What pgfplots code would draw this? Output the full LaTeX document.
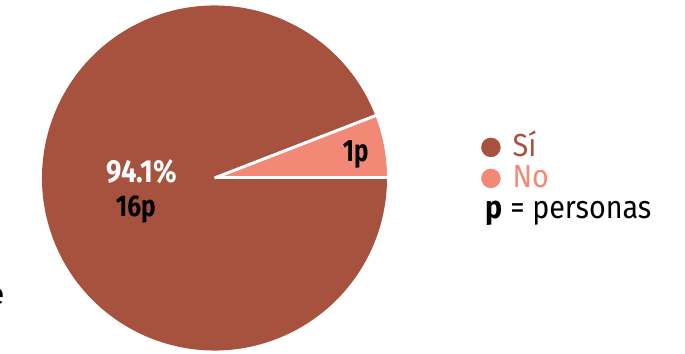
\documentclass[border=0pt]{standalone}
\usepackage{graphicx}
\usepackage{pgfplots}
\pgfplotsset{compat=1.18}
\usepackage{fontspec}
\setmainfont{Fira Sans}
\definecolor{si}{RGB}{166,82,63}
\definecolor{no}{RGB}{241,137,118}
\def\nSi{16}
\def\nNo{1}
\pgfmathsetmacro{\angNo}{360*\nNo/(\nSi+\nNo)}
\begin{document}
\begin{tikzpicture}
\useasboundingbox (0,0) rectangle (685bp,354bp);
\begin{scope}
\clip (0,0) rectangle (685bp,354bp);
\begin{axis}[at={(0,0)}, anchor=south west,
  x=172.5bp, y=172.5bp,
  xmin=-1.2435, xmax=2.7275, ymin=-1.0203, ymax=1.0319,
  hide axis, clip=false,
  legend cell align=left,
  legend style={draw=none, fill=none, at={(axis cs:1.545,-0.014)}, anchor=west,
    font=\fontsize{32}{33}\selectfont, inner sep=0pt, row sep=3bp,
    nodes={inner sep=0pt, text height=21bp, text depth=7bp},
    /tikz/every odd column/.append style={column sep=12bp}},
]
\fill[si] (axis cs:0,0) -- (axis cs:{cos(\angNo)},{sin(\angNo)}) arc[start angle=\angNo, end angle=360, radius=172.5bp] -- cycle;
\fill[no] (axis cs:0,0) -- (axis cs:1,0) arc[start angle=0, end angle=\angNo, radius=172.5bp] -- cycle;
\draw[white, line width=3bp] (axis cs:0,0) -- (axis cs:1.02,0);
\draw[white, line width=3bp] (axis cs:0,0) -- (axis cs:{1.02*cos(\angNo)},{1.02*sin(\angNo)});
\node[anchor=base west, white, xscale=0.86, font=\fontsize{32}{34}\selectfont\bfseries] at (axis cs:-0.646,-0.029) {94.1\%};
\node[anchor=base west, black, xscale=0.82, font=\fontsize{30}{34}\selectfont\bfseries] at (axis cs:-0.588,-0.226) {16p};
\node[anchor=base west, black, xscale=0.78, font=\fontsize{31}{34}\selectfont\bfseries] at (axis cs:0.728,0.093) {1p};
\node[anchor=base east, black, font=\fontsize{30}{34}\selectfont] at (axis cs:-1.197,-0.736) {e};
\addlegendimage{legend image code/.code={\fill[si] (9.5bp,2bp) circle (9.5bp);}}
\addlegendentry{\scalebox{0.9}[1]{\textcolor{si}{Sí}}}
\addlegendimage{legend image code/.code={\fill[no] (9.5bp,2bp) circle (9.5bp);}}
\addlegendentry{\scalebox{0.9}[1]{\textcolor{no}{No}}}
\addlegendimage{empty legend}
\addlegendentry{\hspace*{-27bp}\scalebox{0.9}[1]{\textbf{p} = personas}}
\end{axis}
\end{scope}
\end{tikzpicture}
\end{document}
